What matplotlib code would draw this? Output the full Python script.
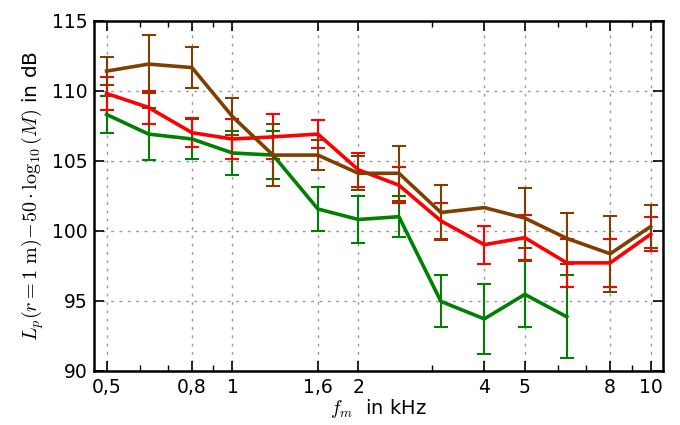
import numpy as np
import matplotlib
matplotlib.use("Agg")
import matplotlib.pyplot as plt
from matplotlib.ticker import FixedLocator, FixedFormatter, LogLocator, NullFormatter

plt.rcParams['mathtext.fontset'] = 'cm'
plt.rcParams['font.family'] = ['DejaVu Sans']

# third-octave centre frequencies in kHz
freq = [0.5, 0.63, 0.8, 1, 1.25, 1.6, 2, 2.5, 3.15, 4, 5, 6.3, 8, 10]
nan = np.nan

brown_vals = [111.4, 111.9, 111.65, 108.15, 105.4, 105.4, 104.1, 104.1, 101.3, 101.65, 100.9, 99.45, 98.35, 100.3]
brown_err = [1.0, 2.05, 1.45, 1.3, 2.2, 1.1, 1.2, 1.95, 1.95, nan, 2.15, 1.8, 2.7, 1.55]

red_vals = [109.8, 108.8, 107.0, 106.55, 106.7, 106.9, 104.35, 103.25, 100.7, 99.0, 99.5, 97.7, 97.7, 99.75]
red_err = [1.2, 1.2, 1.05, 1.45, 1.6, 1.0, 1.2, 1.3, 1.3, 1.35, 1.6, 1.7, 1.7, 1.2]

green_vals = [108.3, 106.9, 106.55, 105.55, 105.4, 101.55, 100.8, 101.0, 94.95, 93.7, 95.45, 93.85, nan, nan]
green_err = [1.35, 1.85, 1.45, 1.55, 1.7, 1.6, 1.7, 1.45, 1.85, 2.5, 2.35, 2.95, nan, nan]

xticks = [0.5, 0.8, 1, 1.6, 2, 4, 5, 8, 10]
xticklabels = ['0,5', '0,8', '1', '1,6', '2', '4', '5', '8', '10']

series = [
    (green_vals, green_err, '#008000'),
    (red_vals, red_err, '#ff0000'),
    (brown_vals, brown_err, '#7f3f00'),
]

fig = plt.figure(figsize=(6.8, 4.25), dpi=100)
ax = fig.add_axes([0.1387, 0.1278, 0.975 - 0.1387, 0.9513 - 0.1278])

for vals, err, col in series:
    ax.errorbar(freq, vals, yerr=err, color=col, lw=2.6, elinewidth=1.5,
                capsize=5, capthick=1.5)

ax.set_xscale('log')
ax.set_xlim(0.5 / 1.07, 10 * 1.07)
ax.set_ylim(90, 115)
ax.xaxis.set_major_locator(FixedLocator(xticks))
ax.xaxis.set_major_formatter(FixedFormatter(xticklabels))
ax.xaxis.set_minor_locator(LogLocator(subs=np.arange(2, 10)))
ax.xaxis.set_minor_formatter(NullFormatter())
ax.set_yticks(range(90, 116, 5))

ax.tick_params(which='both', direction='in', top=True, right=True, labelsize=13.5)
ax.tick_params(which='major', length=7, width=1.2, pad=5)
ax.tick_params(which='minor', length=4, width=1)
ax.grid(True, which='major', color='0.6', linestyle=(0, (2, 4)), lw=1)
for s in ax.spines.values():
    s.set_linewidth(1.8)

ax.set_xlabel(r'$f_m$  in kHz', fontsize=14, labelpad=0)
ax.set_ylabel(r'$L_p(r=1\ \mathrm{m})\!-\!50\cdot\log_{10}(M)$ in dB', fontsize=14.5, labelpad=4)

fig.savefig('out.png', dpi=100)
